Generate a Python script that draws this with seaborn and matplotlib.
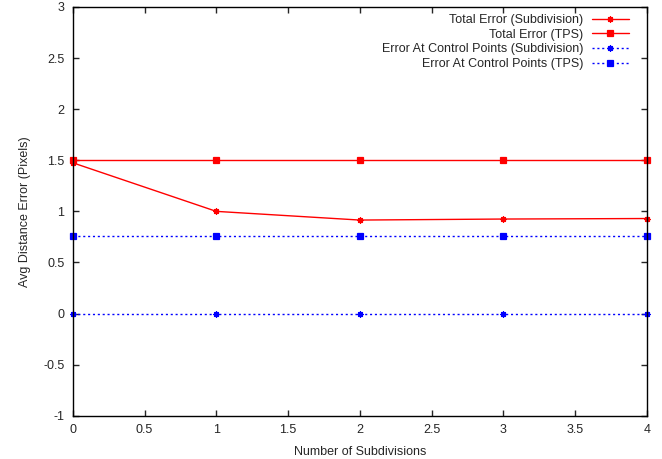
import pandas as pd
import numpy as np
import matplotlib
matplotlib.use("Agg")
import matplotlib.pyplot as plt
import seaborn as sns

# values
subdivisions = [0, 1, 2, 3, 4]
total_err_subdiv = [1.475, 1.0, 0.915, 0.925, 0.93]
total_err_tps = [1.5, 1.5, 1.5, 1.5, 1.5]
ctrl_err_subdiv = [0.0, 0.0, 0.0, 0.0, 0.0]
ctrl_err_tps = [0.76, 0.76, 0.76, 0.76, 0.76]

series_names = ["Total Error (Subdivision)", "Total Error (TPS)",
                "Error At Control Points (Subdivision)", "Error At Control Points (TPS)"]
series_vals = [total_err_subdiv, total_err_tps, ctrl_err_subdiv, ctrl_err_tps]
series_colors = ["#ff0000", "#ff0000", "#0000ff", "#0000ff"]
series_markers = [(8, 2, 0), "s", (8, 2, 0), "s"]
series_ls = ["-", "-", (0, (1.5, 2)), (0, (1.5, 2))]

sns.set_style("ticks")
plt.rcParams['font.family'] = ['Liberation Sans', 'DejaVu Sans']

fig = plt.figure(figsize=(6.62, 4.59), dpi=100)
ax = fig.add_axes([0.110, 0.094, 0.867, 0.891])

for name, vals, c, m, ls in zip(series_names, series_vals, series_colors,
                                series_markers, series_ls):
    sns.lineplot(x=subdivisions, y=vals, color=c, marker=m, linestyle=ls,
                 linewidth=1, markersize=4.5, markeredgewidth=0.9,
                 markeredgecolor=c, label=name, ax=ax, clip_on=False)

ax.set_xlim(0, 4)
ax.set_ylim(-1, 3)
ax.set_xticks(np.arange(0, 4.01, 0.5))
ax.set_yticks(np.arange(-1, 3.01, 0.5))
ax.set_xticklabels(["0", "0.5", "1", "1.5", "2", "2.5", "3", "3.5", "4"])
ax.set_yticklabels(["-1", "-0.5", "0", "0.5", "1", "1.5", "2", "2.5", "3"])
ax.tick_params(direction="in", top=True, right=True, length=4, width=1,
               labelsize=9, pad=6)
for s in ax.spines.values():
    s.set_visible(True)
    s.set_linewidth(1)
    s.set_color("black")

ax.set_xlabel("Number of Subdivisions", fontsize=9, labelpad=7)
ax.set_ylabel("Avg Distance Error (Pixels)", fontsize=9, labelpad=9)

handles, labels = ax.get_legend_handles_labels()
ax.legend(handles, labels, loc="upper right", frameon=False, markerfirst=False,
          fontsize=9, handlelength=2.9, handletextpad=0.7, labelspacing=0.22,
          bbox_to_anchor=(0.977, 0.995), borderaxespad=0)

fig.savefig("out.png", dpi=100)
